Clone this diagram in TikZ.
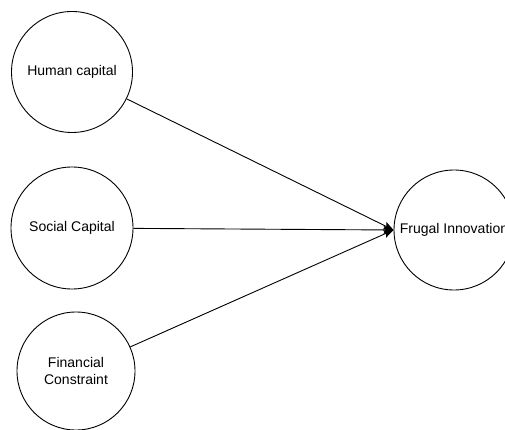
\documentclass[tikz,border=0pt]{standalone}
\usepackage{fontspec}
\setmainfont{Liberation Sans}
\usetikzlibrary{arrows.meta}
\begin{document}
\begin{tikzpicture}[x=1pt,y=-1pt,
  concept/.style={circle,draw=black,line width=0.9pt,minimum size=#1,inner sep=0pt,align=center,font=\fontsize{14}{16.5}\selectfont},
  link/.style={draw=black,line width=0.9pt,-{Stealth[length=10pt,width=8pt,inset=2pt]}}]
\clip (0,0) rectangle (505,430);
\fill[white] (0,0) rectangle (505,430);
\node[concept=121pt] (hc) at (72,72) {Human capital};
\node[concept=122pt] (sc) at (72,228) {Social Capital};
\node[concept=118pt] (fc) at (76,371) {Financial\\Constraint};
\node[concept=120pt] (fi) at (454,230) {};
\node[font=\fontsize{14}{16.5}\selectfont] (fit) at (454,230) {Frugal Innovation};
\draw[link] (hc) -- (fi.west);
\draw[link] (sc) -- (fi.west);
\draw[link] (fc) -- (fi.west);
\end{tikzpicture}
\end{document}
